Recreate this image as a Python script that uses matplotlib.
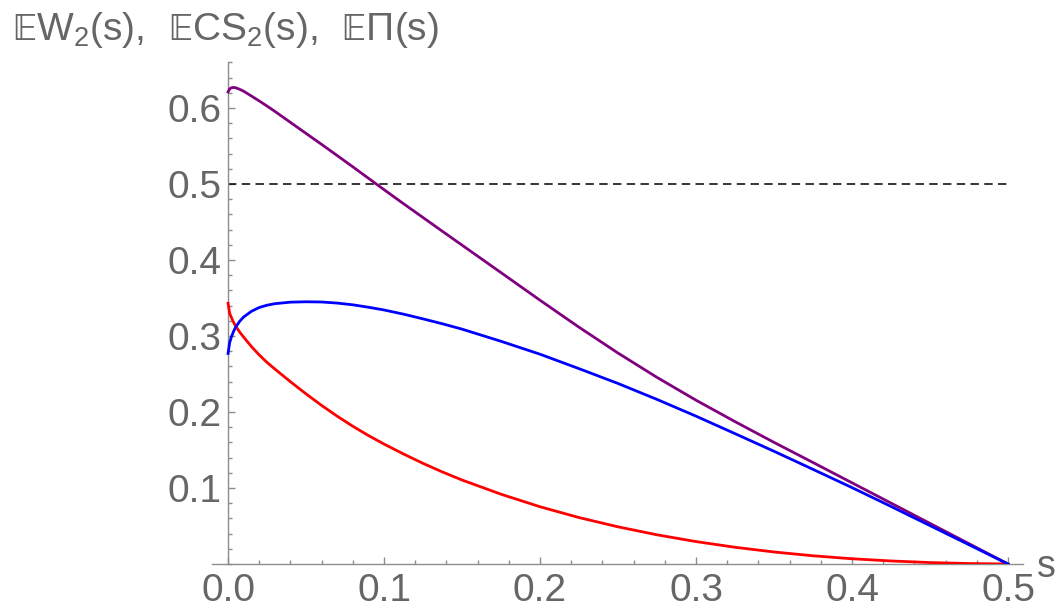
import matplotlib
matplotlib.use("Agg")
import matplotlib.pyplot as plt
from matplotlib.ticker import MultipleLocator, FixedLocator

# ---- data ----
s = [0.0, 0.001, 0.002, 0.0035, 0.005, 0.0075, 0.01, 0.015, 0.02, 0.025, 0.03,
     0.04, 0.05, 0.06, 0.07, 0.08, 0.09, 0.1, 0.1125, 0.125, 0.1375, 0.15,
     0.175, 0.2, 0.225, 0.25, 0.275, 0.3, 0.325, 0.35, 0.375, 0.4, 0.425,
     0.45, 0.475, 0.5]

EPi = [0.621, 0.625, 0.6265, 0.627, 0.6265, 0.6245, 0.622, 0.6157, 0.6092, 0.6025, 0.5955,
       0.581, 0.5665, 0.552, 0.5373, 0.5225, 0.5075, 0.4925, 0.474, 0.4558, 0.4376, 0.4195,
       0.3833, 0.347, 0.3115, 0.2775, 0.2455, 0.2155, 0.1873, 0.160, 0.1335, 0.1068, 0.0801,
       0.0534, 0.0267, 0.0]

ECS2 = [0.277, 0.291, 0.298, 0.306, 0.312, 0.3195, 0.325, 0.3325, 0.3375, 0.3405, 0.3425,
        0.3445, 0.345, 0.3447, 0.3433, 0.341, 0.3378, 0.3342, 0.3287, 0.3225, 0.316, 0.309,
        0.293, 0.276, 0.257, 0.2375, 0.2165, 0.1945, 0.1715, 0.1483, 0.1245, 0.1005, 0.0757,
        0.0505, 0.0253, 0.0]

EW2 = [0.343, 0.330, 0.325, 0.318, 0.3125, 0.305, 0.2985, 0.286, 0.275, 0.2652, 0.2565,
       0.2398, 0.2238, 0.2086, 0.1944, 0.1812, 0.169, 0.1578, 0.1447, 0.1324, 0.121, 0.1105,
       0.0918, 0.0753, 0.0611, 0.0489, 0.0384, 0.0295, 0.022, 0.0158, 0.0108, 0.0069, 0.004,
       0.0019, 0.0006, 0.0]

threshold = 0.5
x_ticks = [0.0, 0.1, 0.2, 0.3, 0.4, 0.5]
x_tick_labels = ["0.0", "0.1", "0.2", "0.3", "0.4", "0.5"]
y_ticks = [0.1, 0.2, 0.3, 0.4, 0.5, 0.6]
y_tick_labels = ["0.1", "0.2", "0.3", "0.4", "0.5", "0.6"]
y_label = "$\\mathrm{\U0001D53CW_2(s),\\ \\,\U0001D53CCS_2(s),\\ \\,\U0001D53C\u03A0(s)}$"
x_label = "s"

# ---- figure ----
fams = ["Liberation Sans", "DejaVu Sans"]
plt.rcParams["font.family"] = fams
plt.rcParams["mathtext.fontset"] = "custom"
plt.rcParams["mathtext.rm"] = "Liberation Sans"
plt.rcParams["mathtext.it"] = "Liberation Sans:italic"
plt.rcParams["mathtext.bf"] = "Liberation Sans:bold"
plt.rcParams["mathtext.fallback"] = "stixsans"

W, H = 1058, 612
fig = plt.figure(figsize=(W / 100, H / 100), dpi=100)

x0, x1 = -0.0103, 0.5096
y0, y1 = 0.0, 0.661
ax = fig.add_axes([212 / W, (H - 564) / H, (1023 - 212) / W, (564 - 61.6) / H])
ax.set_xlim(x0, x1)
ax.set_ylim(y0, y1)

gray = "#8c8c8c"
txt = "#666666"

ax.plot([0, 0.5], [threshold, threshold], color="black", lw=1.1,
        linestyle=(0, (5.5, 3.5)), zorder=2)
ax.plot(s, EPi, color="#800080", lw=2.0, zorder=3)
ax.plot(s, ECS2, color="#0000ff", lw=2.0, zorder=4)
ax.plot(s, EW2, color="#ff0000", lw=2.0, zorder=3)

for side in ("top", "right"):
    ax.spines[side].set_visible(False)
ax.spines["left"].set_position(("data", 0))
ax.spines["left"].set_color(gray)
ax.spines["bottom"].set_color(gray)
ax.spines["left"].set_linewidth(1.0)
ax.spines["bottom"].set_linewidth(1.0)

ax.xaxis.set_major_locator(FixedLocator(x_ticks))
ax.set_xticklabels(x_tick_labels)
ax.xaxis.set_minor_locator(MultipleLocator(0.02))
ax.yaxis.set_major_locator(FixedLocator(y_ticks))
ax.set_yticklabels(y_tick_labels)
ax.yaxis.set_minor_locator(MultipleLocator(0.02))

ax.tick_params(which="both", direction="in", color=gray, width=1.0)
ax.tick_params(which="major", length=5.0, labelsize=28, labelcolor=txt)
ax.tick_params(which="minor", length=3.0)
ax.tick_params(axis="x", which="major", pad=6.5)
ax.tick_params(axis="y", which="major", pad=4.5)

fig.text(12 / W, 1 - 40 / H, y_label, fontsize=28, color=txt,
         ha="left", va="baseline")
fig.text(1037 / W, 1 - 577 / H, x_label, fontsize=27, color=txt,
         ha="left", va="baseline")

fig.savefig("out.png", dpi=100)
